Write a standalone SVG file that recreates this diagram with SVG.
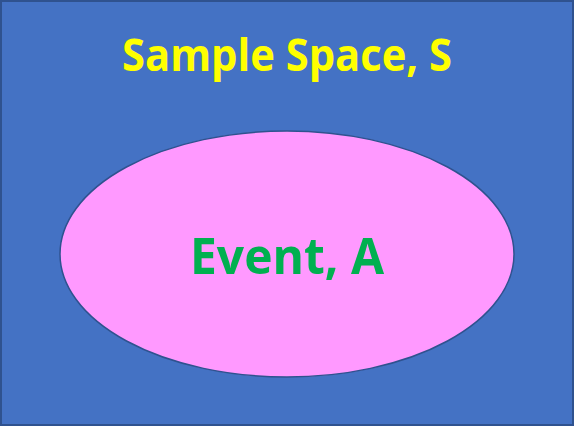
<svg xmlns="http://www.w3.org/2000/svg" width="574" height="426" viewBox="0 0 574 426">
<style>
.t{font-family:"Open Sans","Liberation Sans",sans-serif;font-weight:bold;}
</style>
<g id="sample-space">
<rect x="1" y="1" width="572" height="424" fill="#4472C4" stroke="#2F528F" stroke-width="2"/>
<text class="t" x="287" y="71" text-anchor="middle" font-size="45" fill="#FFFF00" textLength="330" lengthAdjust="spacingAndGlyphs">Sample Space, S</text>
</g>
<g id="event-a">
<ellipse cx="287" cy="254" rx="227" ry="123" fill="#FF99FF" stroke="#2F528F" stroke-width="1.5"/>
<text class="t" x="287" y="274" text-anchor="middle" font-size="50" fill="#00B050" textLength="194" lengthAdjust="spacingAndGlyphs">Event, A</text>
</g>
</svg>
